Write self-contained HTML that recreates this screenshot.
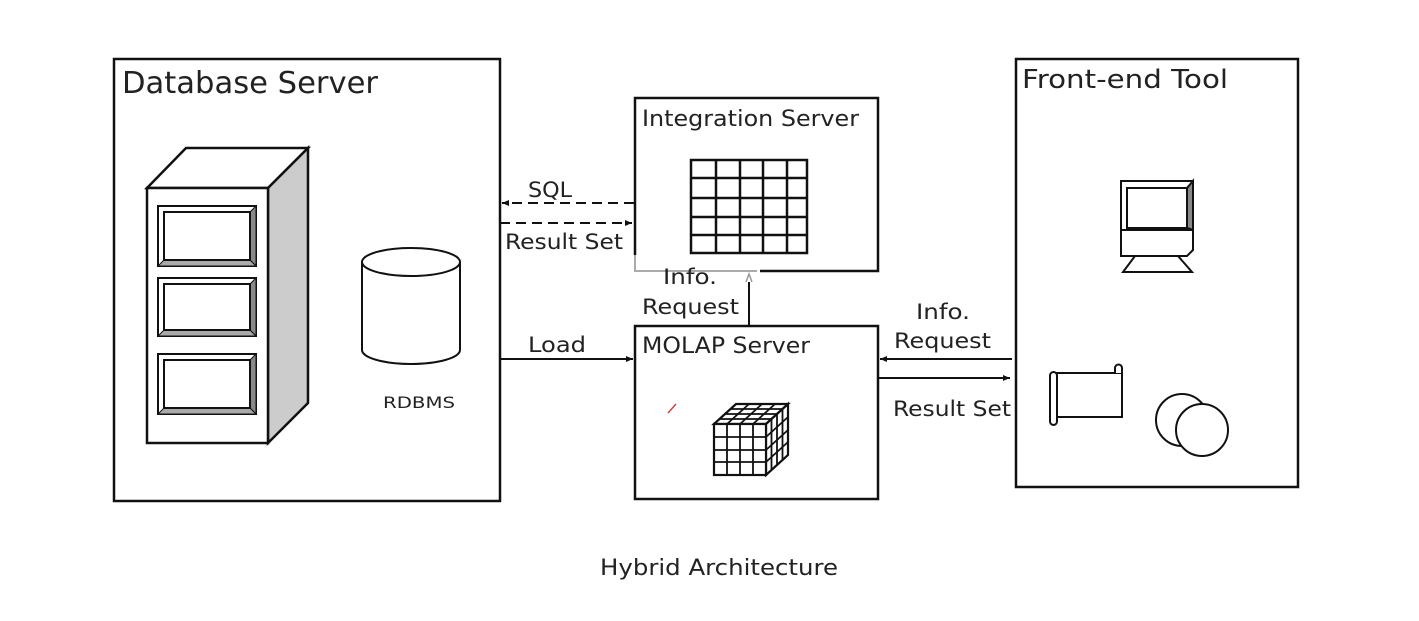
<!DOCTYPE html>
<html><head><meta charset="utf-8"><style>
html,body{margin:0;padding:0;background:#fff;}
svg{display:block;}
text{font-family:"DejaVu Sans","Liberation Sans",sans-serif;fill:#222;}
</style></head><body>
<svg width="1419" height="621" viewBox="0 0 1419 621" xmlns="http://www.w3.org/2000/svg">
<defs>
<marker id="ah" markerWidth="8" markerHeight="8" refX="7" refY="4" orient="auto" markerUnits="userSpaceOnUse">
<path d="M0,1 L7,4 L0,7 z" fill="#111"/></marker>
</defs>
<g stroke="#111" stroke-width="2.5" fill="none">
<rect x="114" y="59" width="386" height="442"/>
<polygon points="147,188 186,148 308,148 268,188" fill="#fff"/>
<polygon points="268,188 308,148 308,403 268,443" fill="#ccc"/>
<rect x="147" y="188" width="121" height="255" fill="#fff"/>
</g>
<g stroke="#111" stroke-width="2" fill="#fff">
<rect x="158" y="206" width="98" height="60"/><polygon points="250,212 256,206 256,266 250,260" fill="#888" stroke-width="1"/><polygon points="164,260 250,260 256,266 158,266" fill="#aaa" stroke-width="1"/><rect x="164" y="212" width="86" height="48"/>
<rect x="158" y="278" width="98" height="58"/><polygon points="250,284 256,278 256,336 250,330" fill="#888" stroke-width="1"/><polygon points="164,330 250,330 256,336 158,336" fill="#aaa" stroke-width="1"/><rect x="164" y="284" width="86" height="46"/>
<rect x="158" y="354" width="98" height="60"/><polygon points="250,360 256,354 256,414 250,408" fill="#888" stroke-width="1"/><polygon points="164,408 250,408 256,414 158,414" fill="#aaa" stroke-width="1"/><rect x="164" y="360" width="86" height="48"/>
</g>
<g stroke="#111" stroke-width="2" fill="#fff">
<path d="M362,262 L362,350 A49,14 0 0 0 460,350 L460,262"/>
<ellipse cx="411" cy="262" rx="49" ry="14"/>
</g>
<text x="383" y="408" font-size="16" textLength="72" lengthAdjust="spacingAndGlyphs">RDBMS</text>
<text x="122" y="93" font-size="30" textLength="256" lengthAdjust="spacingAndGlyphs">Database Server</text>

<g stroke="#111" stroke-width="2.5" fill="none">
<path d="M635,255 L635,98 L878,98 L878,271 L760,271"/>
</g>
<path d="M635,255 L635,271 L757,271" stroke="#aaa" stroke-width="2" fill="none"/>
<text x="642" y="126" font-size="22" textLength="217" lengthAdjust="spacingAndGlyphs">Integration Server</text>
<g stroke="#111" stroke-width="2.5" fill="none">
<rect x="691" y="160" width="116" height="93"/>
<path d="M716,160V253M740,160V253M763,160V253M787,160V253M691,178H807M691,198H807M691,217H807M691,235H807"/>
</g>

<g stroke="#111" stroke-width="2" fill="none" stroke-dasharray="10,6">
<line x1="634" y1="203" x2="502" y2="203" marker-end="url(#ah)"/>
<line x1="500" y1="223" x2="632" y2="223" marker-end="url(#ah)"/>
</g>
<text x="528" y="197" font-size="21" textLength="44" lengthAdjust="spacingAndGlyphs">SQL</text>
<text x="505" y="249" font-size="21" textLength="118" lengthAdjust="spacingAndGlyphs">Result Set</text>

<line x1="749" y1="326" x2="749" y2="282" stroke="#111" stroke-width="2"/>
<path d="M746,282 L749,274 L752,282" stroke="#999" stroke-width="1.5" fill="none"/>
<text x="663" y="284" font-size="21" textLength="54" lengthAdjust="spacingAndGlyphs">Info.</text>
<text x="642" y="314" font-size="21" textLength="97" lengthAdjust="spacingAndGlyphs">Request</text>

<rect x="635" y="326" width="243" height="173" stroke="#111" stroke-width="2.5" fill="none"/>
<text x="642" y="353" font-size="22" textLength="168" lengthAdjust="spacingAndGlyphs">MOLAP Server</text>
<line x1="500" y1="359" x2="633" y2="359" stroke="#111" stroke-width="2" marker-end="url(#ah)"/>
<text x="528" y="352" font-size="21" textLength="58" lengthAdjust="spacingAndGlyphs">Load</text>
<path d="M668,413 L676,404" stroke="#c44" stroke-width="1.5"/>

<g stroke="#111" stroke-width="2.2" fill="#fff">
<polygon points="714,424 736,404 788,404 766,424"/>
<polygon points="766,424 788,404 788,455 766,475"/>
<rect x="714" y="424" width="52" height="51"/>
</g>
<g stroke="#111" stroke-width="1.8" fill="none">
<path d="M727,424V475M740,424V475M753,424V475M714,437H766M714,450H766M714,462H766"/>
<path d="M719.5,419 L771.5,419 M725,414 L777,414 M730.5,409 L782.5,409"/>
<path d="M727,424 L749,404 M740,424 L762,404 M753,424 L775,404"/>
<path d="M771.5,419 V470 M777,414 V465 M782.5,409 V460"/>
<path d="M766,437 L788,417 M766,450 L788,430 M766,462 L788,442"/>
</g>

<line x1="1012" y1="359" x2="880" y2="359" stroke="#111" stroke-width="2" marker-end="url(#ah)"/>
<line x1="878" y1="378" x2="1010" y2="378" stroke="#111" stroke-width="2" marker-end="url(#ah)"/>
<text x="916" y="319" font-size="21" textLength="54" lengthAdjust="spacingAndGlyphs">Info.</text>
<text x="894" y="348" font-size="21" textLength="97" lengthAdjust="spacingAndGlyphs">Request</text>
<text x="893" y="416" font-size="21" textLength="118" lengthAdjust="spacingAndGlyphs">Result Set</text>

<rect x="1016" y="59" width="282" height="428" stroke="#111" stroke-width="2.5" fill="none"/>
<text x="1022" y="88" font-size="26" textLength="206" lengthAdjust="spacingAndGlyphs">Front-end Tool</text>
<g stroke="#111" stroke-width="2" fill="#fff">
<rect x="1121" y="181" width="72" height="49"/>
<rect x="1127" y="188" width="60" height="40"/>
<polygon points="1187,188 1193,181 1193,230 1187,228" fill="#888"/>
<polygon points="1121,230 1193,230 1193,250 1187,256 1121,256"/>
<polygon points="1135,256 1178,256 1192,272 1123,272"/>
<path d="M1056,373 L1122,373 L1122,417 L1056,417"/>
<rect x="1050" y="372" width="7" height="53" rx="3.5"/>
<path d="M1115,373 L1115,368 A3.5,3.5 0 0 1 1122,368 L1122,373"/>
<circle cx="1182" cy="420" r="26"/>
<circle cx="1202" cy="430" r="26"/>
</g>

<text x="600" y="575" font-size="22" textLength="238" lengthAdjust="spacingAndGlyphs">Hybrid  Architecture</text>
</svg>
</body></html>
